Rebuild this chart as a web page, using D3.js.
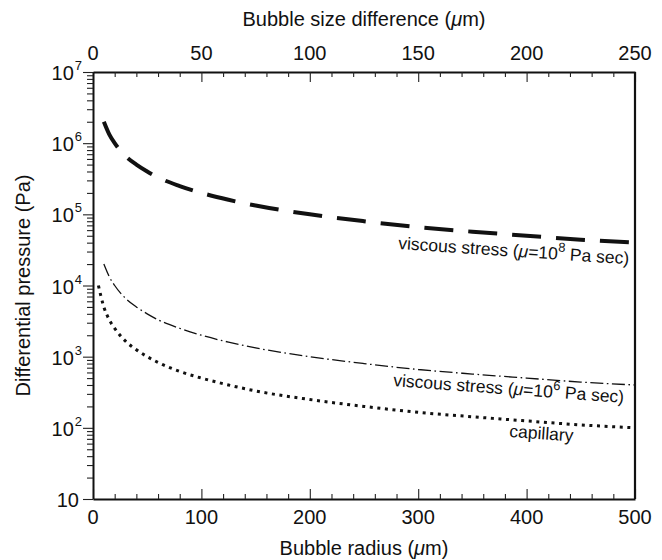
<!DOCTYPE html>
<html>
<head>
<meta charset="utf-8">
<script src="https://cdn.jsdelivr.net/npm/d3@7"></script>
<style>
  body { margin: 0; background: #fff; }
  svg text { font-family: "Liberation Sans", Arial, Helvetica, sans-serif; fill: #111; }
  .axis path { stroke: #111; stroke-width: 2; }
  .axis line { stroke: #222; stroke-width: 1.1; }
</style>
</head>
<body>
<svg id="chart"></svg>
<script>
// values
const radius = [5, 10, 15, 20, 30, 40, 50, 60, 80, 100, 125, 150, 200, 250, 300, 350, 400, 450, 500];
const capillary = [10000, 5000, 3300, 2500, 1650, 1250, 1000, 830, 620, 500, 400, 330, 250, 200, 165, 143, 125, 110, 100];
const viscousLow = [null, 20000, 13300, 10000, 6600, 5000, 4000, 3300, 2500, 2000, 1600, 1330, 1000, 800, 660, 570, 500, 440, 400];
const viscousHigh = [null, 2.0e6, 1.33e6, 1.0e6, 6.6e5, 5.0e5, 4.0e5, 3.3e5, 2.5e5, 2.0e5, 1.6e5, 1.33e5, 1.0e5, 8.0e4, 6.6e4, 5.7e4, 5.0e4, 4.4e4, 4.0e4];

const bottomTicks = [0, 100, 200, 300, 400, 500];
const topTicks = [0, 50, 100, 150, 200, 250];
const yExponents = [1, 2, 3, 4, 5, 6, 7];

const config = {
  width: 662,
  height: 560,
  margin: { top: 72, right: 27, bottom: 61, left: 93 }
};

const vis = {};
vis.innerW = config.width - config.margin.left - config.margin.right;
vis.innerH = config.height - config.margin.top - config.margin.bottom;

vis.svg = d3.select('#chart')
  .attr('width', config.width)
  .attr('height', config.height);

vis.chart = vis.svg.append('g')
  .attr('transform', `translate(${config.margin.left},${config.margin.top})`);

// scales
vis.xScale = d3.scaleLinear().domain([0, 500]).range([0, vis.innerW]);
vis.xTopScale = d3.scaleLinear().domain([0, 250]).range([0, vis.innerW]);
vis.yScale = d3.scaleLog().domain([10, 1e7]).range([vis.innerH, 0]);

// minor tick values
const xMinor = d3.range(0, 501, 20).filter(d => d % 100 !== 0);
const xTopMinor = d3.range(0, 251, 10).filter(d => d % 50 !== 0);
const yMinor = [];
for (let e = 1; e < 7; e++) {
  for (let k = 2; k <= 9; k++) yMinor.push(k * Math.pow(10, e));
}

// bottom axis: ticks point inward
vis.chart.append('g')
  .attr('class', 'axis')
  .attr('transform', `translate(0,${vis.innerH})`)
  .call(d3.axisTop(vis.xScale).tickValues(xMinor).tickSize(5).tickSizeOuter(0).tickFormat(''));

vis.chart.append('g')
  .attr('class', 'axis')
  .attr('transform', `translate(0,${vis.innerH})`)
  .call(d3.axisTop(vis.xScale).tickValues(bottomTicks).tickSize(10).tickSizeOuter(0).tickFormat(''))
  .call(g => g.select('.domain').remove());

vis.chart.selectAll('.xlab')
  .data(bottomTicks)
  .join('text')
  .attr('class', 'xlab')
  .attr('x', d => vis.xScale(d))
  .attr('y', vis.innerH + 25)
  .attr('text-anchor', 'middle')
  .attr('font-size', 20)
  .text(d => d);

// top axis
vis.chart.append('g')
  .attr('class', 'axis')
  .call(d3.axisBottom(vis.xTopScale).tickValues(xTopMinor).tickSize(5).tickSizeOuter(0).tickFormat(''));

vis.chart.append('g')
  .attr('class', 'axis')
  .call(d3.axisBottom(vis.xTopScale).tickValues(topTicks).tickSize(10).tickSizeOuter(0).tickFormat(''))
  .call(g => g.select('.domain').remove());

vis.chart.selectAll('.xtlab')
  .data(topTicks)
  .join('text')
  .attr('class', 'xtlab')
  .attr('x', d => vis.xTopScale(d))
  .attr('y', -12)
  .attr('text-anchor', 'middle')
  .attr('font-size', 20)
  .text(d => d);

// left axis: ticks point outward
vis.chart.append('g')
  .attr('class', 'axis')
  .call(d3.axisLeft(vis.yScale).tickValues(yMinor).tickSize(6).tickSizeOuter(0).tickFormat(''));

vis.chart.append('g')
  .attr('class', 'axis')
  .call(d3.axisLeft(vis.yScale).tickValues(yExponents.map(e => Math.pow(10, e))).tickSize(10).tickSizeOuter(0).tickFormat(''))
  .call(g => g.select('.domain').remove());

const ylab = vis.chart.selectAll('.ylab')
  .data(yExponents)
  .join('text')
  .attr('class', 'ylab')
  .attr('x', d => d === 1 ? -14 : -11)
  .attr('y', d => vis.yScale(Math.pow(10, d)) + 8)
  .attr('text-anchor', 'end')
  .attr('font-size', 20);
ylab.append('tspan').text('10');
ylab.filter(d => d > 1).append('tspan')
  .attr('font-size', 13)
  .attr('dy', -10)
  .attr('dx', 1)
  .text(d => d);

// right frame line
vis.chart.append('line')
  .attr('x1', vis.innerW).attr('x2', vis.innerW)
  .attr('y1', 0).attr('y2', vis.innerH)
  .attr('stroke', '#111')
  .attr('stroke-width', 2.2);

// axis titles
const titleTop = vis.svg.append('text')
  .attr('x', config.margin.left + vis.innerW / 2)
  .attr('y', 26)
  .attr('text-anchor', 'middle')
  .attr('font-size', 20);
titleTop.append('tspan').text('Bubble size difference (');
titleTop.append('tspan').attr('font-style', 'italic').text('μ');
titleTop.append('tspan').text('m)');

const titleBottom = vis.svg.append('text')
  .attr('x', config.margin.left + vis.innerW / 2)
  .attr('y', 555)
  .attr('text-anchor', 'middle')
  .attr('font-size', 20);
titleBottom.append('tspan').text('Bubble radius (');
titleBottom.append('tspan').attr('font-style', 'italic').text('μ');
titleBottom.append('tspan').text('m)');

vis.svg.append('text')
  .attr('transform', `translate(30,${config.margin.top + vis.innerH / 2}) rotate(-90)`)
  .attr('text-anchor', 'middle')
  .attr('font-size', 20)
  .text('Differential pressure (Pa)');

// curves
const series = [
  { values: capillary, width: 3, dash: '3,4.6' },
  { values: viscousLow, width: 1.3, dash: '13,3.5,1.6,3.5' },
  { values: viscousHigh, width: 4, dash: '29,15' }
];

const line = d3.line()
  .defined(d => d.p != null)
  .x(d => vis.xScale(d.r))
  .y(d => vis.yScale(d.p))
  .curve(d3.curveMonotoneX);

vis.chart.selectAll('.curve')
  .data(series)
  .join('path')
  .attr('class', 'curve')
  .attr('fill', 'none')
  .attr('stroke', '#111')
  .attr('stroke-width', d => d.width)
  .attr('stroke-dasharray', d => d.dash)
  .attr('d', d => line(radius.map((r, i) => ({ r: r, p: d.values[i] }))));

// curve labels
function curveLabel(x, y, angle, mu) {
  const t = vis.svg.append('text')
    .attr('transform', `translate(${x},${y}) rotate(${angle})`)
    .attr('font-size', 17.5);
  if (mu === null) {
    t.text('capillary');
    return;
  }
  t.append('tspan').text('viscous stress (');
  t.append('tspan').attr('font-style', 'italic').text('μ');
  t.append('tspan').text('=10');
  t.append('tspan').attr('font-size', 13).attr('dy', -8).text(mu);
  t.append('tspan').attr('dy', 8).text(' Pa sec)');
}

curveLabel(398, 249, 3.8, '8');
curveLabel(393, 386, 4.2, '6');
curveLabel(509, 437, 4, null);
</script>
</body>
</html>
